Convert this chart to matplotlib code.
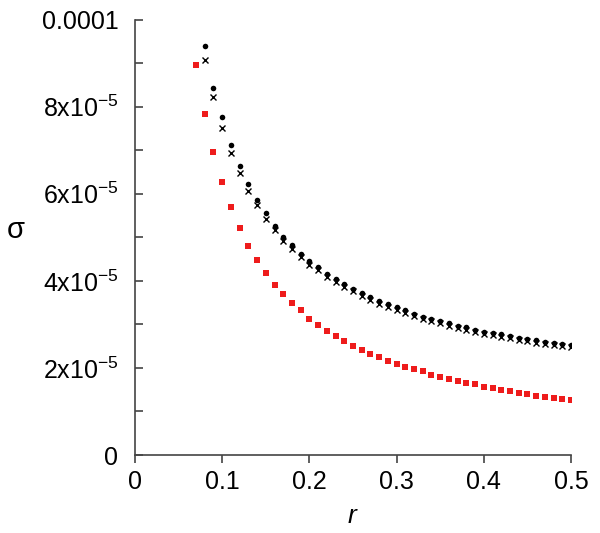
import matplotlib
matplotlib.use('Agg')
import matplotlib.pyplot as plt
from matplotlib.ticker import FixedLocator, FixedFormatter

plt.rcParams['font.family'] = 'Liberation Sans'
plt.rcParams['mathtext.fontset'] = 'custom'
plt.rcParams['mathtext.rm'] = 'Liberation Sans'
plt.rcParams['mathtext.it'] = 'Liberation Sans:italic'

# r values
r_red = [0.07, 0.08, 0.09, 0.10, 0.11, 0.12, 0.13, 0.14, 0.15, 0.16, 0.17, 0.18,
         0.19, 0.20, 0.21, 0.22, 0.23, 0.24, 0.25, 0.26, 0.27, 0.28, 0.29, 0.30,
         0.31, 0.32, 0.33, 0.34, 0.35, 0.36, 0.37, 0.38, 0.39, 0.40, 0.41, 0.42,
         0.43, 0.44, 0.45, 0.46, 0.47, 0.48, 0.49, 0.50]
r_blk = r_red[1:]

# sigma, in units of 1e-5
sig_red = [8.95, 7.83, 6.96, 6.27, 5.69, 5.22, 4.81, 4.48, 4.18, 3.91, 3.69, 3.49,
           3.32, 3.13, 2.98, 2.85, 2.73, 2.61, 2.51, 2.41, 2.32, 2.25, 2.17, 2.09,
           2.03, 1.98, 1.92, 1.84, 1.79, 1.75, 1.70, 1.66, 1.62, 1.57, 1.53, 1.50,
           1.46, 1.43, 1.40, 1.36, 1.33, 1.31, 1.29, 1.26]
sig_dot = [9.39, 8.43, 7.75, 7.13, 6.63, 6.23, 5.86, 5.56, 5.26, 5.00, 4.83,
           4.62, 4.45, 4.31, 4.16, 4.04, 3.92, 3.82, 3.72, 3.62, 3.53, 3.46, 3.39,
           3.32, 3.24, 3.18, 3.13, 3.08, 3.02, 2.97, 2.93, 2.87, 2.83, 2.80, 2.77,
           2.73, 2.69, 2.66, 2.63, 2.60, 2.58, 2.56, 2.53]
sig_crs = [9.08, 8.21, 7.51, 6.94, 6.48, 6.07, 5.73, 5.43, 5.16, 4.92, 4.73,
           4.54, 4.37, 4.24, 4.09, 3.97, 3.86, 3.76, 3.66, 3.56, 3.47, 3.40, 3.33,
           3.26, 3.19, 3.13, 3.08, 3.03, 2.97, 2.92, 2.88, 2.82, 2.78, 2.75, 2.72,
           2.68, 2.64, 2.61, 2.58, 2.55, 2.53, 2.51, 2.48]

xticks = [0, 0.1, 0.2, 0.3, 0.4, 0.5]
xlabels = ['0', '0.1', '0.2', '0.3', '0.4', '0.5']
yticks = [0, 2e-5, 4e-5, 6e-5, 8e-5, 1e-4]
ylabels = ['0', '2x10$^{-5}$', '4x10$^{-5}$', '6x10$^{-5}$', '8x10$^{-5}$', '0.0001']
yminor = [1e-5, 3e-5, 5e-5, 7e-5, 9e-5]

fig = plt.figure(figsize=(6, 5.33), dpi=100)
ax = fig.add_axes([0.225, 0.1463, 0.7267, 0.8171])

ax.plot(r_red, [v * 1e-5 for v in sig_red], 's', color='#ee1c1c', ms=5.0, mew=0)
ax.plot(r_blk, [v * 1e-5 for v in sig_dot], 'o', color='black', ms=4.0, mew=0)
ax.plot(r_blk, [v * 1e-5 for v in sig_crs], 'x', color='black', ms=4.6, mew=1.0)

ax.set_xlim(0, 0.5)
ax.set_ylim(0, 1e-4)
ax.spines['top'].set_visible(False)
ax.spines['right'].set_visible(False)
for s in ['left', 'bottom']:
    ax.spines[s].set_color('#444444')
    ax.spines[s].set_linewidth(1.2)

ax.xaxis.set_major_locator(FixedLocator(xticks))
ax.xaxis.set_major_formatter(FixedFormatter(xlabels))
ax.yaxis.set_major_locator(FixedLocator(yticks))
ax.yaxis.set_major_formatter(FixedFormatter(ylabels))
ax.yaxis.set_minor_locator(FixedLocator(yminor))

ax.tick_params(axis='x', direction='out', length=6, width=1.2, color='#444444',
               labelsize=18, pad=5)
ax.tick_params(axis='y', which='both', direction='in', length=6, width=1.2,
               color='#444444', labelsize=18, pad=12)

ax.set_xlabel('$\\mathit{r}$', fontsize=19)
ax.xaxis.set_label_coords(0.5, -0.113)
ax.set_ylabel('σ', fontsize=21, rotation=0, va='center', ha='center')
ax.yaxis.set_label_coords(-0.273, 0.517)

plt.savefig('out.png', dpi=100)
